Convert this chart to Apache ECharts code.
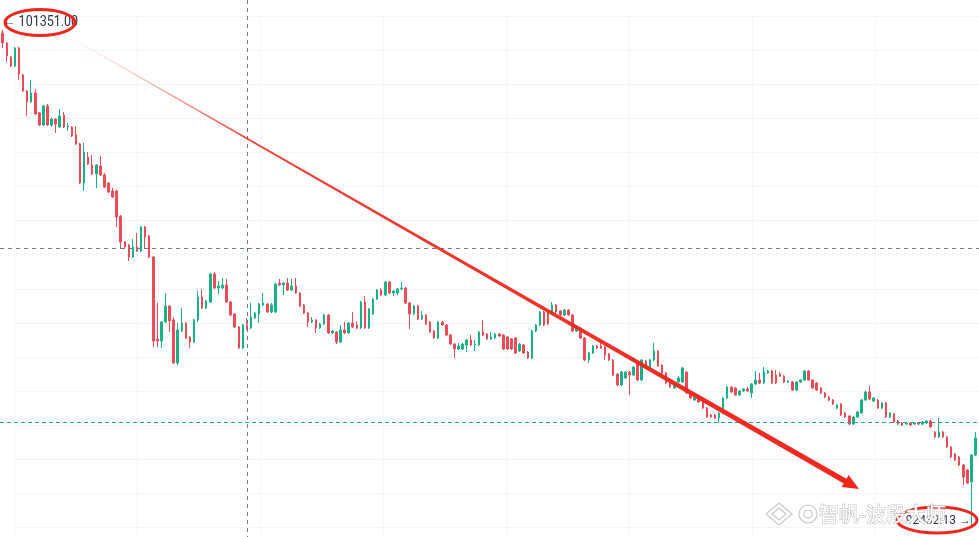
<!DOCTYPE html>
<html><head><meta charset="utf-8">
<script src="https://cdn.jsdelivr.net/npm/echarts@6/dist/echarts.min.js"></script>
<style>html,body{margin:0;padding:0;background:#fff}#c{width:979px;height:537px}</style>
</head><body><div id="c"></div>
<script>
const opens=[101297,101117,100865,100703,101027,100541,100253,100055,100217,99857,
99641,99983,99641,99749,99605,99821,99605,99605,99461,99299,
98597,99065,98921,98759,98903,98741,98597,98453,98453,98003,
97535,97481,97265,97445,97373,97805,97643,97265,95789,95753,
96095,96383,96131,95357,95933,96077,95825,95735,96131,96545,
96347,96455,96959,96707,96707,96761,96455,96239,96005,95627,
96041,95987,96167,96239,96401,96419,96275,96275,96797,96761,
96797,96671,96743,96617,96401,96257,96095,96131,95987,96059,
96221,95897,95915,95735,95951,95897,96077,96041,95987,96455,
95987,96239,96509,96671,96581,96815,96617,96617,96689,96707,
96437,96239,96383,96149,96221,96095,95933,95807,96095,96041,
95861,95699,95609,95609,95681,95771,95681,95681,95915,95879,
95789,95807,95879,95861,95825,95789,95807,95573,95681,95555,
95447,95933,96041,96275,96275,96239,96401,96293,96221,96311,
96221,95933,95987,95807,95411,95537,95663,95663,95645,95519,
95411,95159,94961,95087,95195,95141,95357,95051,95393,95267,
95411,95573,95321,95177,95051,94907,95015,95015,95195,94835,
94691,94727,94655,94547,94421,94421,94367,94457,94727,94925,
94907,94781,94853,94889,94817,94979,95051,94997,95177,95213,
95141,95159,95123,95015,95015,94871,95015,95051,95213,95051,
94997,94907,94817,94745,94691,94547,94619,94457,94403,94259,
94385,94457,94691,94835,94673,94691,94547,94637,94385,94439,
94313,94277,94259,94277,94259,94277,94259,94277,94313,94115,
94025,94115,94025,93845,93719,93665,93521,93431,93215,93701];
const closes=[101117,100883,100703,101027,100559,100253,100055,100217,99839,99641,
99983,99641,99749,99659,99803,99605,99623,99443,99299,98597,
99155,98939,98759,98921,98741,98525,98435,98345,97985,97535,
97445,97265,97445,97373,97805,97625,97265,95753,95753,96095,
96383,96113,95357,95951,96077,95807,95735,96131,96545,96347,
96473,96959,96707,96743,96761,96455,96221,96005,95627,96041,
95969,96185,96257,96419,96437,96275,96401,96779,96761,96797,
96671,96743,96617,96383,96257,96095,96131,95987,96059,96221,
95897,95933,95735,95951,95897,96077,96005,95987,96455,95987,
96329,96509,96671,96581,96815,96617,96653,96689,96707,96437,
96239,96383,96149,96221,96059,95915,95807,96095,96041,95861,
95699,95609,95663,95699,95771,95681,95699,95915,95861,95789,
95825,95879,95843,95609,95609,95609,95537,95699,95537,95447,
95933,96041,96275,96041,96059,96401,96275,96221,96311,96221,
95933,96023,95807,95411,95537,95663,95627,95627,95501,95411,
95141,94961,95195,95195,95141,95285,95051,95411,95267,95411,
95573,95303,95177,94997,94925,94979,95087,95267,94817,94727,
94745,94655,94547,94385,94385,94367,94457,94727,94925,94835,
94781,94853,94889,94853,94979,95051,94997,95195,95213,94997,
94997,95123,95015,95033,94871,95015,95051,95213,95051,94907,
94871,94817,94745,94691,94619,94601,94421,94385,94259,94385,
94475,94691,94835,94709,94727,94547,94637,94385,94457,94295,
94259,94241,94277,94241,94277,94259,94295,94313,94205,94025,
94115,94025,93845,93665,93611,93521,93305,93197,93701,94007];
const lows=[101027,100775,100685,100685,100451,100235,99803,100037,99821,99623,
99623,99623,99605,99497,99587,99587,99533,99425,99281,98579,
98453,98921,98741,98507,98723,98507,98417,98327,97805,97409,
97409,97193,97247,97355,97355,97427,97247,95645,95645,95627,
96077,95915,95339,95321,95915,95789,95627,95717,96095,96329,
96329,96437,96689,96599,96689,96437,96203,95987,95609,95609,
95951,95969,96149,96077,96383,96257,96257,96257,96743,96581,
96653,96653,96599,96365,96239,96005,96077,95897,95969,96041,
95879,95879,95699,95717,95879,95879,95987,95969,95969,95969,
95969,96221,96491,96563,96563,96599,96563,96581,96671,96419,
95969,96221,96131,96131,96041,95897,95789,95789,96023,95843,
95681,95447,95591,95591,95555,95663,95573,95663,95843,95771,
95771,95789,95825,95591,95591,95591,95519,95555,95519,95429,
95429,95915,96023,96023,96041,96221,96257,96203,96203,96203,
95915,95915,95789,95393,95357,95519,95609,95609,95411,95393,
95123,94943,94943,95069,94781,95123,95033,95033,95249,95249,
95393,95285,95159,94979,94907,94889,94997,94997,94799,94709,
94673,94637,94529,94367,94367,94349,94277,94439,94709,94817,
94763,94763,94835,94835,94727,94961,94979,94979,95159,94979,
94979,95105,94997,94997,94853,94853,94997,95033,95033,94889,
94853,94799,94727,94673,94601,94529,94403,94367,94241,94241,
94367,94439,94673,94691,94655,94529,94529,94367,94367,94277,
94241,94223,94241,94223,94241,94241,94241,94259,94187,94007,
94007,94007,93827,93647,93593,93503,93161,93179,92432.13,93683];
const highs=[101351,101135,100883,101045,101045,100559,100271,100451,100289,99875,
100001,100019,99767,99767,99929,99875,99677,99623,99623,99317,
99317,99155,99101,98939,99083,98777,98615,98507,98471,98021,
97553,97499,97589,97697,97823,97823,97661,97283,96437,96113,
96617,96401,96185,96077,96347,96095,95843,96149,96653,96689,
96491,96977,96995,96833,96887,96869,96473,96257,96023,96059,
96167,96437,96275,96437,96617,96437,96437,96797,96869,96815,
96887,96869,96887,96635,96419,96275,96185,96149,96077,96239,
96239,95951,95933,96041,96095,96095,96275,96113,96473,96563,
96347,96527,96689,96707,96833,96833,96671,96707,96815,96725,
96455,96401,96401,96293,96239,96113,95951,96113,96113,96059,
95879,95717,95717,95717,95789,95861,95771,95933,96131,95897,
95915,95897,95897,95879,95843,95807,95825,95717,95699,95573,
95951,96059,96293,96293,96293,96455,96419,96311,96329,96329,
96239,96041,96005,95825,95555,95681,95681,95753,95663,95537,
95429,95177,95213,95213,95213,95303,95375,95429,95411,95429,
95717,95591,95339,95195,95069,94997,95123,95285,95213,94853,
94763,94745,94673,94565,94439,94439,94475,94745,94943,94943,
94925,94871,94907,94925,94997,95213,95177,95285,95231,95231,
95231,95195,95141,95051,95033,95033,95069,95231,95231,95069,
95015,94925,94835,94763,94709,94619,94637,94475,94421,94403,
94493,94709,94853,94943,94745,94709,94655,94655,94475,94457,
94331,94295,94295,94295,94295,94295,94313,94331,94331,94133,
94367,94133,94043,93863,93737,93683,93539,93449,93719,94115];
const categories = opens.map((_, i) => String(i + 1));
const crosshairIndex = 60;
const crosshairPrice = 97422;
const priceLine = 94295;
const watermark = '智帆-波段大师';

const candles = categories.map((_, i) => [opens[i], closes[i], lows[i], highs[i]]);
const maxHigh = Math.max(...highs), minLow = Math.min(...lows);
const UP = '#14b387', DOWN = '#ee4b57';

const chart = echarts.init(document.getElementById('c'), null, {renderer: 'canvas'});
chart.setOption({
  animation: false,
  backgroundColor: '#ffffff',
  grid: [
    {left: 0.67, right: 1.5, top: 30, bottom: 11.5},
    {left: 14, right: 0, top: 16, bottom: 0}
  ],
  xAxis: [
    {type: 'category', gridIndex: 0, data: categories, boundaryGap: true, show: false},
    {type: 'value', gridIndex: 1, min: 0, max: 965, interval: 123,
     axisLine: {show: false}, axisTick: {show: false}, axisLabel: {show: false},
     splitLine: {show: true, lineStyle: {color: '#f4f5f7', width: 1}}}
  ],
  yAxis: [
    {type: 'value', gridIndex: 0, min: minLow, max: maxHigh, show: false},
    {type: 'value', gridIndex: 1, inverse: true, min: 0, max: 521, interval: 34.1,
     axisLine: {show: false}, axisTick: {show: false}, axisLabel: {show: false},
     splitLine: {show: true, lineStyle: {color: '#f4f5f7', width: 1}}}
  ],
  series: [{
    type: 'candlestick', xAxisIndex: 0, yAxisIndex: 0, data: candles,
    barWidth: 2,
    itemStyle: {color: UP, color0: DOWN, borderColor: UP, borderColor0: DOWN, borderWidth: 1}
  }]
});

const toPx = (i, p) => chart.convertToPixel({xAxisIndex: 0, yAxisIndex: 0}, [i, p]);
const cx = Math.round(toPx(crosshairIndex, crosshairPrice)[0]) + 0.5;
const cy = Math.round(toPx(crosshairIndex, crosshairPrice)[1]) + 0.5;
const ty = Math.round(toPx(0, priceLine)[1]) + 0.5;
const W = 979, H = 537;

function arrowPoints(x0, y0, x1, y1) {
  const dx = x1 - x0, dy = y1 - y0, L = Math.hypot(dx, dy);
  const ux = dx / L, uy = dy / L, nx = -uy, ny = ux;
  const headLen = 16, headW = 7, w0 = 0.25, w1 = 2.7;
  const bx = x1 - ux * headLen, by = y1 - uy * headLen;
  return [[x0 + nx * w0, y0 + ny * w0], [bx + nx * w1, by + ny * w1], [bx + nx * headW, by + ny * headW],
          [x1, y1], [bx - nx * headW, by - ny * headW], [bx - nx * w1, by - ny * w1], [x0 - nx * w0, y0 - ny * w0]];
}
const A0 = [75, 40], A1 = [859, 489];
const RED = '#f0261c';

chart.setOption({
  graphic: [
    {type: 'line', silent: true, z: 10, shape: {x1: cx, y1: 0, x2: cx, y2: H},
     style: {stroke: '#6f7b88', lineWidth: 1, lineDash: [4, 4]}},
    {type: 'line', silent: true, z: 10, shape: {x1: 0, y1: cy, x2: W, y2: cy},
     style: {stroke: '#6f7b88', lineWidth: 1, lineDash: [4, 4]}},
    {type: 'line', silent: true, z: 10, shape: {x1: 0, y1: ty, x2: W, y2: ty},
     style: {stroke: '#1aa987', lineWidth: 1, lineDash: [4, 3]}},
    {type: 'polygon', silent: true, z: 20, shape: {points: arrowPoints(A0[0], A0[1], A1[0], A1[1])},
     style: {fill: new echarts.graphic.LinearGradient(A0[0], A0[1], A1[0], A1[1], [
       {offset: 0, color: 'rgba(245,60,50,0.08)'},
       {offset: 0.22, color: 'rgba(240,40,30,0.9)'},
       {offset: 1, color: RED}], true)}},
    {type: 'text', silent: true, z: 30, x: 3, y: 22, scaleY: 1.12, originX: 0, originY: 0,
     style: {text: '← ' + maxHigh.toFixed(2), font: '12.5px Roboto, sans-serif', fill: '#2a3447',
             verticalAlign: 'middle', align: 'left'}},
    {type: 'ellipse', silent: true, z: 31, shape: {cx: 40, cy: 22.5, rx: 35, ry: 13},
     style: {fill: 'none', stroke: RED, lineWidth: 3}},
    {type: 'text', silent: true, z: 30, x: 971, y: 521,
     style: {text: minLow.toFixed(2) + ' →', font: '12px Roboto, sans-serif', fill: '#2a3447',
             verticalAlign: 'middle', align: 'right'}},
    {type: 'ellipse', silent: true, z: 31, shape: {cx: 937, cy: 520, rx: 40, ry: 13},
     style: {fill: 'none', stroke: RED, lineWidth: 3}},
    {type: 'polygon', silent: true, z: 40, shape: {points: [[779, 503], [792, 514], [779, 525], [766, 514]]},
     style: {fill: '#ffffff', stroke: '#c9c9c9', lineWidth: 1.2}},
    {type: 'polygon', silent: true, z: 41, shape: {points: [[779, 508], [786, 514], [779, 520], [772, 514]]},
     style: {fill: '#ffffff', stroke: '#c9c9c9', lineWidth: 1.2}},
    {type: 'circle', silent: true, z: 40, shape: {cx: 808, cy: 514, r: 9},
     style: {fill: '#ffffff', stroke: '#c9c9c9', lineWidth: 1.2}},
    {type: 'circle', silent: true, z: 41, shape: {cx: 808, cy: 514, r: 4},
     style: {fill: '#ffffff', stroke: '#c9c9c9', lineWidth: 1.2}},
    {type: 'text', silent: true, z: 40, x: 819, y: 514,
     style: {text: watermark, font: '20px "Noto Sans CJK SC", sans-serif', fill: '#ffffff',
             stroke: '#c2c2c2', lineWidth: 1.2, verticalAlign: 'middle', align: 'left'}}
  ]
});
</script>
</body></html>
